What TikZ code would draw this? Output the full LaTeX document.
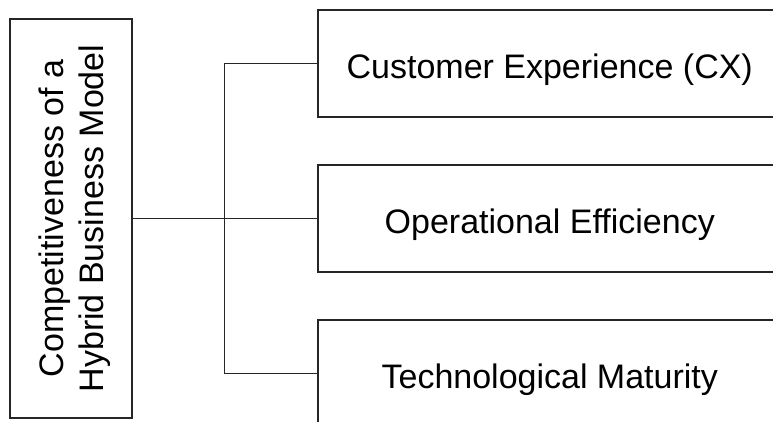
\documentclass[tikz,border=0pt]{standalone}
\usepackage{fontspec}
\setmainfont{Liberation Sans}
\usepackage{tikz}
\usetikzlibrary{positioning}
\tikzstyle{construct} = [rectangle,
draw=black!85,
fill=white,
align=center,
font=\fontsize{34}{40}\selectfont,
text depth=0pt,
minimum width=399pt,
minimum height=122pt,
rotate=90]
\tikzstyle{factor} = [rectangle,
draw=black!85,
fill=white,
align=center,
text height=29.4pt,
text depth=0pt,
minimum width=464pt,
minimum height=107pt]

\begin{document}
\begin{tikzpicture}[x=1pt, y=1pt, line width=1.5pt,
    font=\fontsize{34}{38}\selectfont
    ]
    \useasboundingbox (0,0) rectangle (773,421);
    \clip (0,0) rectangle (773,421);
    \fill[white] (0,0) rectangle (773,421);

    \node (comp) [construct] at (71,202.5) {Competitiveness of a\\Hybrid Business Model};

    \node (oe) [factor, anchor=west] at (317,202.5) {Operational Efficiency};
    \node (cx) [factor, above=46.5pt of oe] {Customer Experience (CX)};
    \node (tm) [factor, below=46.5pt of oe] {Technological Maturity};

    % branch point
    \coordinate (split) at (224.5,202.5);

    \draw[draw=black!85] (comp) -- (split);
    \draw[draw=black!85] (cx.west) -| (split) |- (tm.west);
    \draw[draw=black!85] (split) -- (oe.west);

    \end{tikzpicture}
\end{document}
